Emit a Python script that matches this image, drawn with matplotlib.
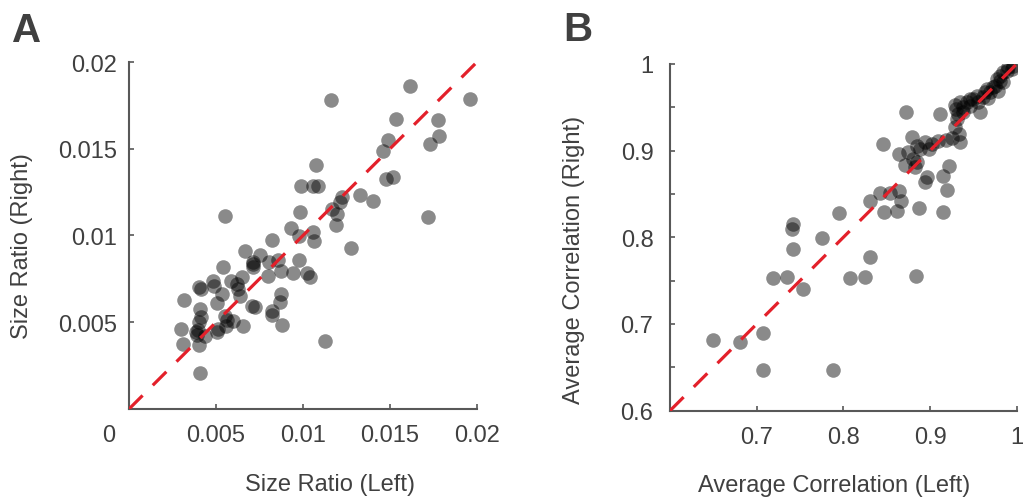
import numpy as np
import matplotlib.pyplot as plt
import matplotlib.transforms as mtransforms

plt.rcParams['font.family'] = ['Liberation Sans', 'DejaVu Sans']

# Panel A: size ratio, left vs right
size_left = [0.01617, 0.0116, 0.01958, 0.01532, 0.01774, 0.01781, 0.01728, 0.0149, 0.01459,
             0.01478, 0.0152, 0.01716, 0.01074, 0.0099, 0.0106, 0.01084, 0.00984, 0.00552,
             0.01223, 0.01214, 0.01327, 0.01402, 0.01168, 0.01198, 0.01187, 0.0093, 0.00978,
             0.0106, 0.01064, 0.01275, 0.00821, 0.00976, 0.00945, 0.01022, 0.01041, 0.00874,
             0.00859, 0.00798, 0.00754, 0.00667, 0.00711, 0.00711, 0.00802, 0.00543, 0.00648,
             0.00585, 0.00485, 0.00403, 0.00412, 0.00489, 0.00533, 0.00629, 0.00639, 0.00619,
             0.00316, 0.00504, 0.00706, 0.00725, 0.00874, 0.00869, 0.00821, 0.00821, 0.00882,
             0.00658, 0.006, 0.00552, 0.00566, 0.00408, 0.00412, 0.00403, 0.00299, 0.00313,
             0.00385, 0.00393, 0.00437, 0.00504, 0.00514, 0.00403, 0.00408, 0.01127, 0.00558,
             0.00711, 0.00395]
size_right = [0.01862, 0.01779, 0.01785, 0.01673, 0.01667, 0.01573, 0.01525, 0.01548, 0.01487,
              0.01327, 0.01337, 0.01106, 0.01408, 0.01288, 0.01283, 0.01285, 0.01138, 0.01115,
              0.01221, 0.01192, 0.01235, 0.01196, 0.01154, 0.01125, 0.01058, 0.01042, 0.00996,
              0.01023, 0.00969, 0.00927, 0.00975, 0.00856, 0.00785, 0.00785, 0.00763, 0.00798,
              0.00856, 0.00765, 0.0089, 0.00908, 0.00846, 0.00817, 0.00846, 0.00817, 0.0076,
              0.0074, 0.0074, 0.00702, 0.00692, 0.00711, 0.00663, 0.00692, 0.00654, 0.00721,
              0.00629, 0.00612, 0.00596, 0.00587, 0.00663, 0.00619, 0.00567, 0.00544, 0.00485,
              0.00481, 0.0051, 0.00538, 0.00515, 0.00577, 0.00529, 0.005, 0.00462, 0.00375,
              0.00446, 0.00427, 0.00419, 0.00442, 0.00462, 0.00369, 0.00208, 0.0039, 0.00477,
              0.00835, 0.00455]

# Panel B: average correlation, left vs right
corr_left = [0.6492, 0.6808, 0.7077, 0.7077, 0.7877, 0.7192, 0.7346, 0.7531, 0.7415, 0.7404,
             0.7415, 0.775, 0.795, 0.8077, 0.8254, 0.8308, 0.8838, 0.8308, 0.8423, 0.8469,
             0.8538, 0.8615, 0.8646, 0.8662, 0.8877, 0.9146, 0.9192, 0.9146, 0.9223, 0.8946,
             0.8962, 0.8462, 0.8646, 0.8712, 0.8827, 0.8854, 0.8723, 0.8788, 0.8846, 0.8885,
             0.8946, 0.8985, 0.9023, 0.9115, 0.9096, 0.9185, 0.8808, 0.8750,
             0.9288, 0.9346, 0.9385, 0.9423, 0.9462, 0.95, 0.9538, 0.9558, 0.9577, 0.9615,
             0.9635, 0.9673, 0.9692, 0.9731, 0.975, 0.9769, 0.9788, 0.9808, 0.9846, 0.9846,
             0.9885, 0.9904, 0.9942, 0.9962, 0.9385, 0.9462, 0.9338, 0.9288, 0.9308, 0.9327,
             0.9346, 0.9654, 0.9808, 0.9250, 0.9300]
corr_right = [0.6819, 0.6796, 0.6896, 0.6473, 0.6473, 0.7527, 0.7538, 0.7404, 0.7865, 0.8096,
              0.8154, 0.7988, 0.8277, 0.7527, 0.7538, 0.7777, 0.755, 0.8423, 0.8512, 0.8288,
              0.8512, 0.8308, 0.8538, 0.8423, 0.8335, 0.8296, 0.855, 0.8704, 0.8827, 0.8635,
              0.8692, 0.9077, 0.8962, 0.8835, 0.8808, 0.8865, 0.945, 0.9154, 0.9058, 0.9019,
              0.9104, 0.9019, 0.9077, 0.9423, 0.9115, 0.9127, 0.8900, 0.8980,
              0.9527, 0.9558, 0.95, 0.9558, 0.9596, 0.9596, 0.9635, 0.9558, 0.9442, 0.9615,
              0.9673, 0.9604, 0.9673, 0.9731, 0.975, 0.9827, 0.9692, 0.9865, 0.9788, 0.9904,
              0.9923, 0.9962, 0.9942, 0.9981, 0.9442, 0.9519, 0.9192, 0.9269, 0.9365, 0.9423,
              0.9096, 0.9712, 0.9808, 0.9150, 0.9480]

txt_col = '#404040'
ax_col = '#585858'
red = '#e3202a'

fig = plt.figure(figsize=(10.28, 5.02), dpi=100)
axA = fig.add_axes([0.1255, 0.1833, 0.3385, 0.6912])
axB = fig.add_axes([0.6518, 0.1800, 0.3372, 0.6906])


def style(ax, pad):
    for s in ['top', 'right']:
        ax.spines[s].set_visible(False)
    for s in ['left', 'bottom']:
        ax.spines[s].set_color(ax_col)
        ax.spines[s].set_linewidth(1.5)
    ax.tick_params(direction='in', length=3.5, width=1.2, color=ax_col,
                   labelsize=17, labelcolor=txt_col)
    ax.tick_params(axis='y', pad=pad)
    ax.tick_params(axis='x', pad=11)
    ax.tick_params(which='minor', direction='in', length=3.5, width=1.2, color=ax_col)


# Panel A
axA.plot([0, 0.02], [0, 0.02], color=red, lw=2.3, dashes=(6, 4.5), zorder=3)
axA.scatter(size_left, size_right, s=110, color='black', alpha=0.46, linewidths=0, zorder=2)
axA.set_xlim(0, 0.02)
axA.set_ylim(0, 0.02)
axA.set_xticks([0, 0.005, 0.01, 0.015, 0.02])
axA.set_xticklabels(['0', '0.005', '0.01', '0.015', '0.02'])
axA.set_yticks([0, 0.005, 0.01, 0.015, 0.02])
axA.set_yticklabels(['', '0.005', '0.01', '0.015', '0.02'])
style(axA, 8.5)
shift = mtransforms.ScaledTranslation(-20 / 100, 0, fig.dpi_scale_trans)
lab0 = axA.get_xticklabels()[0]
lab0.set_transform(lab0.get_transform() + shift)
axA.set_xlabel('Size Ratio (Left)', fontsize=17, color=txt_col)
axA.set_ylabel('Size Ratio (Right)', fontsize=17, color=txt_col)
axA.xaxis.set_label_coords(0.578, -0.185)
axA.yaxis.set_label_coords(-0.276, 0.473)

# Panel B
axB.plot([0.6, 1], [0.6, 1], color=red, lw=2.3, dashes=(6, 4.5), zorder=3)
axB.scatter(corr_left, corr_right, s=110, color='black', alpha=0.46, linewidths=0, zorder=2)
axB.set_xlim(0.6, 1)
axB.set_ylim(0.6, 1)
axB.set_xticks([0.6, 0.7, 0.8, 0.9, 1])
axB.set_xticklabels(['', '0.7', '0.8', '0.9', '1'])
axB.set_yticks([0.6, 0.7, 0.8, 0.9, 1])
axB.set_yticklabels(['0.6', '0.7', '0.8', '0.9', '1'])
axB.set_yticks([0.65, 0.75, 0.85, 0.95], minor=True)
style(axB, 12)
axB.set_xlabel('Average Correlation (Left)', fontsize=17, color=txt_col)
axB.set_ylabel('Average Correlation (Right)', fontsize=17, color=txt_col)
axB.xaxis.set_label_coords(0.473, -0.183)
axB.yaxis.set_label_coords(-0.245, 0.4375)

fig.text(12 / 1028, 1 - 42 / 502, 'A', fontsize=29, fontweight='bold', color=txt_col)
fig.text(563 / 1028, 1 - 41 / 502, 'B', fontsize=29, fontweight='bold', color=txt_col)

fig.savefig('out.png', dpi=100)
